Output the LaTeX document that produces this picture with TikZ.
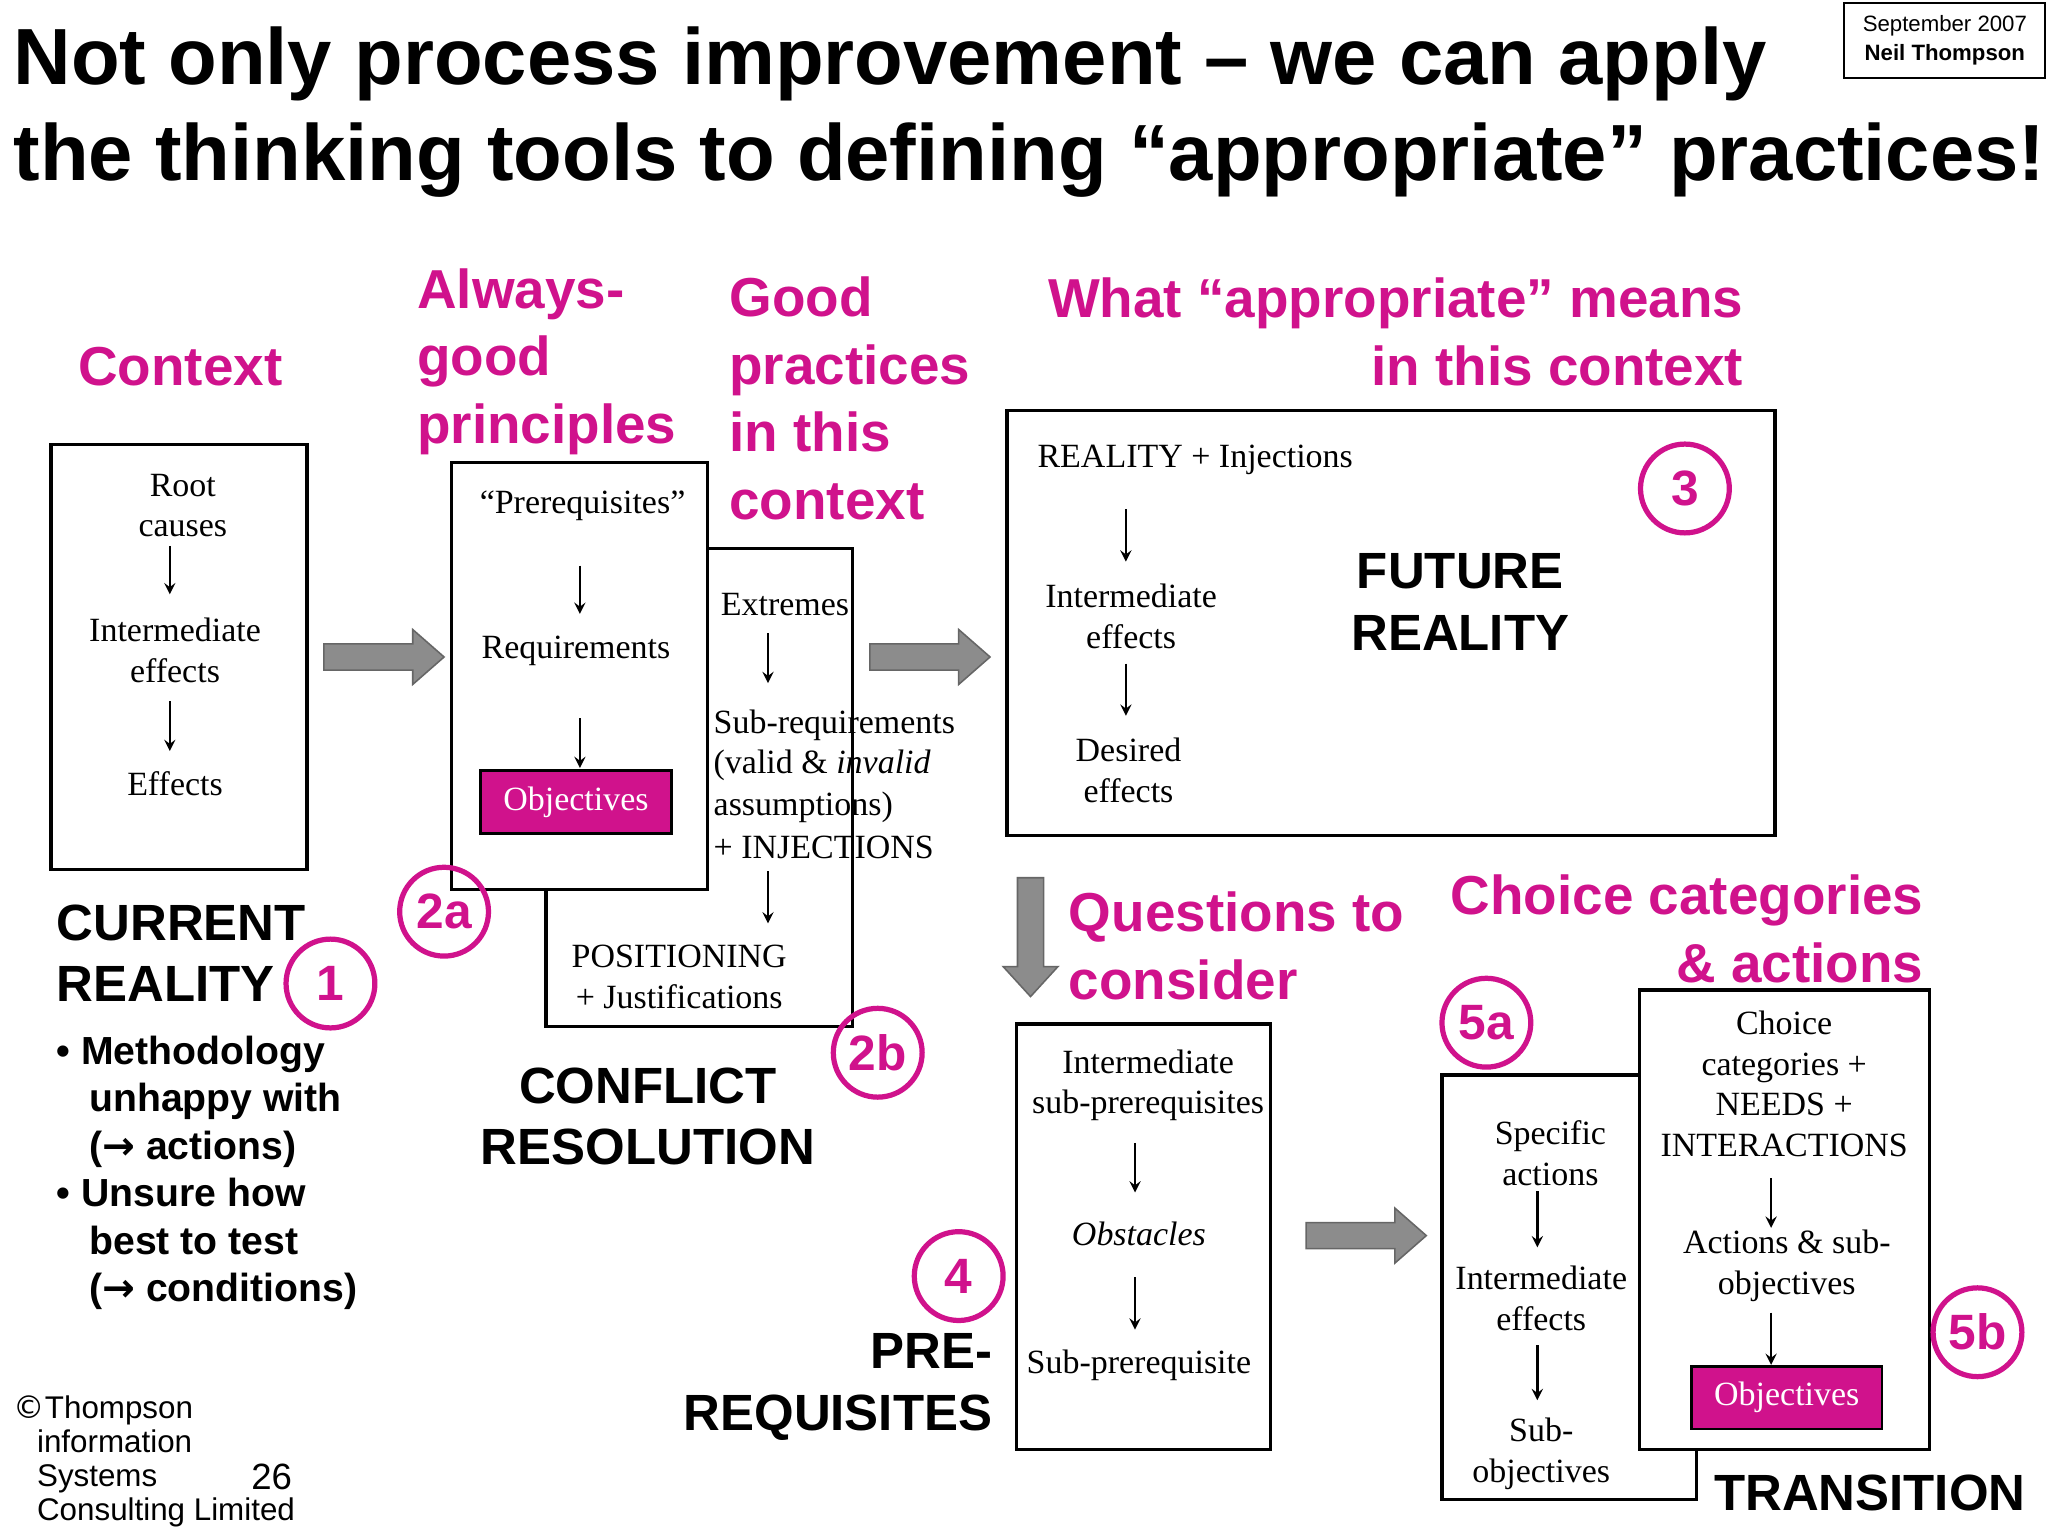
\documentclass[tikz,border=0pt]{standalone}
\usepackage{fontspec}
\setmainfont{Liberation Serif}
\setsansfont{Liberation Sans}
\definecolor{mag}{RGB}{208,18,140}
\definecolor{garrow}{RGB}{140,140,140}
\begin{document}
\begin{tikzpicture}[x=0.5pt,y=-0.5pt,
  body/.style={font=\fontsize{13}{15.5}\selectfont,align=center,inner sep=0pt},
  bodyl/.style={body,anchor=west,align=left},
  phead/.style={font=\sffamily\bfseries\fontsize{21}{26}\selectfont,text=mag,inner sep=0pt},
  bhead/.style={font=\sffamily\bfseries\fontsize{19.5}{23.5}\selectfont,inner sep=0pt},
  box/.style={draw,line width=1.2pt,fill=white},
  num/.style={circle,draw=mag,line width=2pt,minimum size=34pt,inner sep=0pt,text=mag,font=\sffamily\bfseries\fontsize{19}{19}\selectfont},
  obj/.style={fill=mag,draw=black,line width=1pt,text=white,minimum width=73pt,minimum height=24pt,font=\fontsize{13}{13}\selectfont},
  sa/.style={-stealth,line width=0.9pt}]
\useasboundingbox (0,0) rectangle (1568,1176);
\fill[white] (0,0) rectangle (1568,1176);
% title
\node[anchor=base west,font=\sffamily\bfseries\fontsize{30.5}{30.5}\selectfont,inner sep=0pt] (t1) at (10,65) {Not only process improvement – we can apply};
\node[anchor=base west,font=\sffamily\bfseries\fontsize{30.5}{30.5}\selectfont,inner sep=0pt] (t2) at (10,138) {the thinking tools to defining “appropriate” practices!};
\node[draw,line width=0.8pt,minimum width=77pt,minimum height=29pt,font=\sffamily\fontsize{8.5}{11}\selectfont,align=center] (date) at (1489,31) {September 2007\\\textbf{Neil Thompson}};
% headings
\node[phead] (ctx) at (138,281) {Context};
\node[phead,anchor=west,align=left] (agp) at (319,277) {Always-\\good\\principles};
\node[phead,anchor=west,align=left] (gp) at (558,305) {Good\\practices\\in this\\context};
\node[phead,anchor=east,align=right] (wam) at (1335,254) {What “appropriate” means\\in this context};
% box 1
\node[box,minimum width=98pt,minimum height=163pt] (b1) at (137,503) {};
\node[body] (rc) at (140,387) {Root\\causes};
\node[body] (ie1) at (134,498) {Intermediate\\effects};
\node[body] (ef1) at (134,600) {Effects};
\draw[sa] (130,418) -- (130,455);
\draw[sa] (130,537) -- (130,575);
% gray arrows
\foreach \x/\y in {248/503, 666/503, 1000/946}{
  \fill[garrow,draw=black!60,line width=0.6pt] (\x,\y-10) -- (\x+68,\y-10) -- (\x+68,\y-21) -- (\x+92,\y) -- (\x+68,\y+21) -- (\x+68,\y+10) -- (\x,\y+10) -- cycle;}
\fill[garrow,draw=black!60,line width=0.6pt] (779,672) -- (799,672) -- (799,740) -- (810,740) -- (789,763) -- (768,740) -- (779,740) -- cycle;
% box 2b
\node[box,minimum width=117.5pt,minimum height=183pt] (b2b) at (535.5,603) {};
% box 2a
\node[box,minimum width=98pt,minimum height=163.5pt] (b2a) at (444,517.5) {};
\node[body] (pre) at (446,387) {“Prerequisites”};
\node[body] (req) at (441,498) {Requirements};
\node[obj] (o1) at (441,614) {Objectives};
\draw[sa] (444,433) -- (444,470);
\draw[sa] (444,550) -- (444,588);
% 2b text
\node[body] (ext) at (601,463) {Extremes};
\draw[sa] (588,485) -- (588,523);
\node[bodyl] (sr1) at (546,555) {Sub-requirements};
\node[bodyl] (sr2) at (546,586) {(valid \& \textit{invalid}};
\node[bodyl] (sr3) at (546,618) {assumptions)};
\node[bodyl] (sr4) at (546,649) {+ INJECTIONS};
\draw[sa] (588,667) -- (588,707);
\node[body] (pos) at (520,748) {POSITIONING\\+ Justifications};
% box 3
\node[box,minimum width=294pt,minimum height=163pt] (b3) at (1065,477) {};
\node[bodyl] (ri) at (794,352) {REALITY + Injections};
\draw[sa] (862,390) -- (862,430);
\node[body] (ie3) at (866,472) {Intermediate\\effects};
\draw[sa] (862,508) -- (862,548);
\node[body] (de) at (864,590) {Desired\\effects};
\node[bhead,align=center,font=\sffamily\bfseries\fontsize{19.5}{24}\selectfont] (fr) at (1118,461) {FUTURE\\REALITY};
% current reality
\node[bhead,anchor=west,align=left] (cr) at (43,730) {CURRENT\\REALITY};
\node[anchor=west,align=left,inner sep=0pt,font=\sffamily\bfseries\fontsize{15}{18.2}\selectfont] (bul) at (43,898) {• Methodology\\\hspace*{12.5pt}unhappy with\\\hspace*{12.5pt}(\fontspec{DejaVu Sans}\bfseries→\normalfont\sffamily\bfseries{} actions)\\• Unsure how\\\hspace*{12.5pt}best to test\\\hspace*{12.5pt}(\fontspec{DejaVu Sans}\bfseries→\normalfont\sffamily\bfseries{} conditions)};
\node[bhead,align=center] (cfr) at (496,855) {CONFLICT\\RESOLUTION};
% questions / choice
\node[phead,anchor=west,align=left] (q) at (818,724) {Questions to\\consider};
\node[phead,anchor=east,align=right] (cc) at (1473,711) {Choice categories\\\& actions};
% box 4
\node[box,minimum width=97.5pt,minimum height=163pt] (b4) at (875.5,947) {};
\node[body] (isp) at (879,831) {Intermediate\\sub-prerequisites};
\draw[sa] (869,875) -- (869,913);
\node[body] (obs) at (872,945) {\textit{Obstacles}};
\draw[sa] (869,978) -- (869,1018);
\node[body] (sp) at (872,1045) {Sub-prerequisite};
\node[bhead,anchor=east,align=right] (prq) at (760,1062) {PRE-\\REQUISITES};
% box 5a
\node[box,minimum width=97.5pt,minimum height=162.5pt] (b5a) at (1201.5,985.5) {};
\node[body] (sa1) at (1187,883) {Specific\\actions};
\draw[sa] (1177,912) -- (1177,955);
\node[body] (ie5) at (1180,994) {Intermediate\\effects};
\draw[sa] (1177,1030) -- (1177,1072);
\node[body] (so) at (1180,1113) {Sub-\\objectives};
% box 5b
\node[box,minimum width=111pt,minimum height=176pt] (b5b) at (1366,934) {};
\node[body] (ch) at (1366,830) {Choice\\categories +\\NEEDS +\\INTERACTIONS};
\draw[sa] (1356,902) -- (1356,940);
\node[body] (as) at (1368,969) {Actions \& sub-\\objectives};
\draw[sa] (1356,1005) -- (1356,1045);
\node[obj] (o2) at (1368,1070) {Objectives};
\node[bhead,anchor=west] (tr) at (1312,1143) {TRANSITION};
% numbers
\node[num] (n1) at (253,753) {1};
\node[num] (n2a) at (340,698) {2a};
\node[num] (n2b) at (672,806) {2b};
\node[num] (n3) at (1290,374) {3};
\node[num] (n4) at (734,977) {4};
\node[num] (n5a) at (1138,783) {5a};
\node[num] (n5b) at (1514,1020) {5b};
% copyright
\node[anchor=west,align=left,inner sep=0pt,font=\sffamily\fontsize{12}{13}\selectfont] (cp) at (10,1119) {{\fontspec{DejaVu Sans}©}Thompson\\\hspace*{9pt}information\\\hspace*{9pt}Systems\\\hspace*{9pt}Consulting Limited};
\node[font=\sffamily\fontsize{14}{14}\selectfont,inner sep=0pt] (pg) at (208,1131) {26};
\end{tikzpicture}
\end{document}
